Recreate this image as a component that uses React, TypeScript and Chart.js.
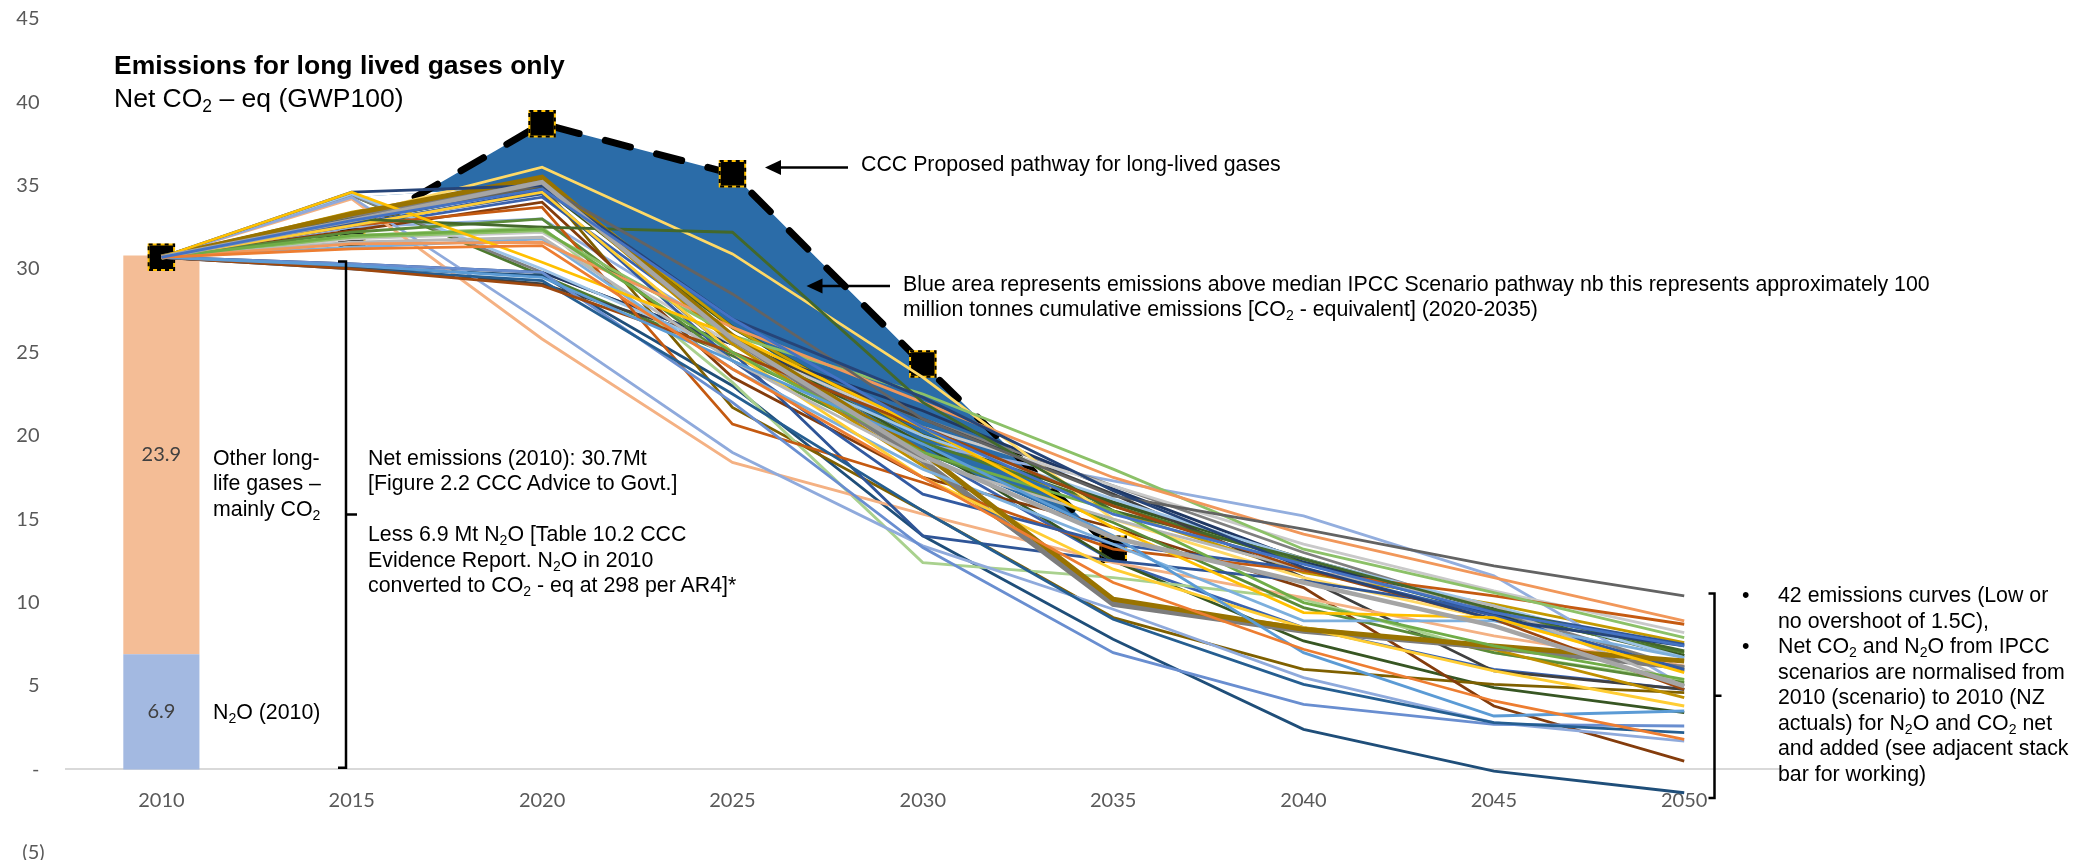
import React, { useEffect, useRef } from 'react';
import { Chart, registerables } from 'chart.js';

Chart.register(...registerables);

// ---- data ----
const years = ['2010', '2015', '2020', '2025', '2030', '2035', '2040', '2045', '2050'];
const yMin = -5;
const yMax = 45;
const yStep = 5;

const netEmissions2010 = 30.7;
const n2o2010 = [6.9];
const otherGases2010 = [23.9];

// CCC proposed pathway for long-lived gases
const cccPathway = [30.7, 32.1, 38.7, 35.7, 24.3, 13.2, null, null, null];
// median of the IPCC scenario curves (lower edge of the blue area)
const medianPathway = [30.7, 34.3, 35.0, 26.5, 19.0, 14.0, null, null, null];

// 42 normalised IPCC emissions curves (Mt CO2-eq)
const curve01 = [30.7, 32.9, 34.8, 27.0, 20.5, 15.3, 12.3, 9.4, 7.4];
const curve02 = [30.7, 31.2, 31.4, 24.0, 17.5, 11.2, 7.2, 4.1, 1.8];
const curve03 = [30.7, 32.9, 35.2, 25.8, 18.8, 13.9, 11.2, 8.6, 5.0];
const curve04 = [30.7, 34.6, 30.4, 26.0, 20.5, 14.5, 9.4, 9.1, 5.8];
const curve05 = [30.7, 30.2, 29.5, 24.5, 19.5, 14.0, 7.0, 3.2, 3.5];
const curve06 = [30.7, 32.0, 32.4, 25.0, 19.0, 15.5, 10.0, 7.4, 5.4];
const curve07 = [30.7, 34.6, 35.0, 27.0, 22.3, 16.7, 12.1, 9.0, 7.4];
const curve08 = [30.7, 30.0, 29.0, 25.0, 20.5, 15.8, 12.0, 9.0, 4.8];
const curve09 = [30.7, 33.0, 35.0, 28.5, 21.0, 16.4, 14.4, 12.2, 10.4];
const curve10 = [30.7, 33.3, 35.5, 26.0, 19.0, 10.2, 8.4, 7.4, 6.5];
const curve11 = [30.7, 30.0, 29.3, 22.5, 15.5, 9.0, 5.1, 2.8, 2.2];
const curve12 = [30.7, 33.0, 32.5, 32.2, 22.0, 15.5, 12.6, 9.6, 7.1];
const curve13 = [30.7, 30.3, 29.8, 22.0, 13.3, 7.0, 3.9, 2.7, 2.6];
const curve14 = [30.7, 31.5, 31.6, 26.5, 22.0, 17.5, 14.1, 11.5, 8.9];
const curve15 = [30.7, 31.6, 31.9, 24.5, 18.5, 15.0, 12.0, 9.8, 5.0];
const curve16 = [30.7, 32.6, 34.6, 25.0, 17.5, 12.0, 8.5, 5.9, 3.8];
const curve17 = [30.7, 31.3, 31.8, 24.0, 18.0, 13.5, 8.9, 8.9, 6.7];
const curve18 = [30.7, 31.9, 32.3, 26.0, 22.5, 18.0, 13.2, 10.6, 7.9];
const curve19 = [30.7, 32.6, 34.7, 24.5, 16.5, 13.5, 12.0, 9.2, 6.0];
const curve20 = [30.7, 32.6, 33.7, 20.7, 17.2, 13.2, 11.9, 10.4, 8.7];
const curve21 = [30.7, 33.2, 35.3, 25.8, 18.5, 9.9, 8.3, 7.3, 6.1];
const curve22 = [30.7, 33.1, 35.2, 25.5, 18.2, 10.1, 8.5, 7.2, 4.3];
const curve23 = [30.7, 32.7, 34.5, 25.0, 14.0, 12.5, 11.3, 9.5, 7.5];
const curve24 = [30.7, 32.2, 33.0, 24.5, 19.0, 14.8, 9.7, 7.0, 5.2];
const curve25 = [30.7, 34.3, 26.8, 19.0, 13.4, 9.6, 5.5, 2.8, 1.7];
const curve26 = [30.7, 34.2, 25.8, 18.4, 15.3, 12.4, 10.3, 8.0, 6.2];
const curve27 = [30.7, 31.8, 32.2, 25.5, 20.5, 17.0, 13.5, 10.7, 8.2];
const curve28 = [30.7, 33.2, 36.1, 30.9, 23.5, 15.0, 11.5, 9.0, 6.0];
const curve29 = [30.7, 34.5, 30.0, 25.0, 20.0, 16.2, 12.6, 9.8, 6.7];
const curve30 = [30.7, 32.0, 32.5, 23.2, 12.4, 11.5, 10.2, 7.0, 5.3];
const curve31 = [30.7, 30.3, 29.8, 25.5, 21.5, 16.8, 12.5, 9.3, 5.9];
const curve32 = [30.7, 32.3, 34.0, 23.5, 17.5, 14.5, 10.9, 3.8, 0.5];
const curve33 = [30.7, 30.1, 29.1, 25.5, 21.0, 16.5, 11.5, 5.9, 4.8];
const curve34 = [30.7, 32.8, 35.0, 21.7, 15.5, 9.1, 6.0, 5.1, 4.6];
const curve35 = [30.7, 30.1, 29.6, 23.0, 14.0, 7.8, 2.4, -0.1, -1.4];
const curve36 = [30.7, 32.8, 34.9, 26.0, 19.5, 12.5, 7.7, 4.9, 3.4];
const curve37 = [30.7, 34.4, 29.8, 25.5, 21.0, 17.0, 13.0, 9.5, 6.1];
const curve38 = [30.7, 34.4, 29.6, 24.8, 19.6, 15.8, 12.4, 9.3, 7.0];
const curve39 = [30.7, 32.5, 33.0, 26.0, 19.5, 17.3, 15.2, 11.6, 5.0];
const curve40 = [30.7, 33.4, 35.4, 26.5, 20.0, 15.5, 11.8, 9.9, 7.6];
const curve41 = [30.7, 32.5, 34.3, 26.0, 19.0, 12.5, 8.5, 6.0, 4.8];
const curve42 = [30.7, 33.1, 35.0, 26.5, 20.0, 16.0, 12.6, 9.6, 6.8];

const curves = [
  curve01, curve02, curve03, curve04, curve05, curve06, curve07, curve08, curve09, curve10,
  curve11, curve12, curve13, curve14, curve15, curve16, curve17, curve18, curve19, curve20,
  curve21, curve22, curve23, curve24, curve25, curve26, curve27, curve28, curve29, curve30,
  curve31, curve32, curve33, curve34, curve35, curve36, curve37, curve38, curve39, curve40,
  curve41, curve42,
];

const curveColours = [
  '#4472C4', '#ED7D31', '#A5A5A5', '#FFC000', '#5B9BD5', '#70AD47', '#264478', '#9E480E',
  '#636363', '#997300', '#255E91', '#43682B', '#698ED0', '#F1975A', '#B7B7B7', '#FFCD33',
  '#7CAFDD', '#8CC168', '#335AA1', '#C55A11', '#7C7C7C', '#BF9000', '#2F5597', '#5A8A39',
  '#8FAADC', '#F4B183', '#C9C9C9', '#FFD966', '#9DC3E6', '#A9D18E', '#203864', '#843C0C',
  '#404040', '#7F6000', '#1F4E79', '#375623', '#7F7F7F', '#4E7A2E', '#93AEDE', '#C49A00',
  '#3A62AE', '#385723',
];

const curveWidths = curves.map((_, i) =>
  i === 20 ? 5.5 : i === 9 ? 5 : i === 2 ? 4.5 : i === 41 ? 4 : 2.8
);

const BAR_N2O = 0;
const BAR_OTHER = 1;
const MEDIAN = 2;
const CCC = 3;

const tickText = (v: number) => (v > 0 ? `${v} ` : v === 0 ? '- ' : `(${Math.abs(v)})`);

// value labels inside the 2010 stacked bar
const barValueLabels = {
  id: 'barValueLabels',
  afterDatasetsDraw(chart: any) {
    const ctx = chart.ctx;
    ctx.save();
    ctx.font = '20px Lato, "Open Sans", sans-serif';
    ctx.fillStyle = '#404040';
    ctx.textAlign = 'center';
    ctx.textBaseline = 'middle';
    [[BAR_N2O, n2o2010[0]], [BAR_OTHER, otherGases2010[0]]].forEach(([idx, value]) => {
      const el = chart.getDatasetMeta(idx).data[0];
      const c = el.getCenterPoint();
      ctx.fillText(value.toFixed(1), c.x, c.y);
    });
    ctx.restore();
  },
};

// dashed gold outline around the CCC pathway markers
const cccMarkerOutline = {
  id: 'cccMarkerOutline',
  afterDatasetDraw(chart: any, args: any) {
    if (args.index !== CCC) return;
    const ctx = chart.ctx;
    const ds = chart.data.datasets[CCC];
    const half = Math.SQRT1_2 * ds.pointRadius;
    ctx.save();
    ctx.strokeStyle = '#000';
    ctx.lineWidth = 2;
    ctx.setLineDash([4, 4]);
    args.meta.data.forEach((pt: any) => {
      if (pt.skip) return;
      ctx.strokeRect(pt.x - half, pt.y - half, half * 2, half * 2);
    });
    ctx.restore();
  },
};

// brackets and arrows pointing at the annotated features
const annotationShapes = {
  id: 'annotationShapes',
  afterDraw(chart: any) {
    const ctx = chart.ctx;
    const y = chart.scales.y;
    ctx.save();
    ctx.strokeStyle = '#000';
    ctx.fillStyle = '#000';
    ctx.lineWidth = 2.5;
    ctx.lineJoin = 'miter';

    const bracket = (x: number, top: number, bottom: number, hook: number, tick: number) => {
      const mid = (top + bottom) / 2;
      ctx.beginPath();
      ctx.moveTo(x - hook, top);
      ctx.lineTo(x, top);
      ctx.lineTo(x, bottom);
      ctx.lineTo(x - hook, bottom);
      ctx.moveTo(x, mid);
      ctx.lineTo(x + tick, mid);
      ctx.stroke();
    };
    bracket(338, y.getPixelForValue(30.45), y.getPixelForValue(0.1), 8, 11);
    bracket(1706.5, y.getPixelForValue(10.55), y.getPixelForValue(-1.72), 6, 7);

    const arrow = (tipX: number, tipY: number, tailX: number) => {
      ctx.beginPath();
      ctx.moveTo(tipX + 12, tipY);
      ctx.lineTo(tailX, tipY);
      ctx.stroke();
      ctx.beginPath();
      ctx.moveTo(tipX, tipY);
      ctx.lineTo(tipX + 16, tipY - 7.5);
      ctx.lineTo(tipX + 16, tipY + 7.5);
      ctx.closePath();
      ctx.fill();
    };
    arrow(757, 159.5, 840);
    arrow(798.5, 278, 882);
    ctx.restore();
  },
};

const textFont = '"Liberation Sans", Arial, Helvetica, sans-serif';
const subStyle: React.CSSProperties = { fontSize: '0.66em', verticalAlign: '-0.28em', lineHeight: 0 };
const Sub2 = () => <sub style={subStyle}>2</sub>;

export default function App() {
  const canvasRef = useRef<HTMLCanvasElement | null>(null);

  useEffect(() => {
    const canvas = canvasRef.current;
    if (!canvas) return;
    Chart.defaults.font.family = 'Lato, "Open Sans", sans-serif';

    const datasets: any[] = [
      {
        type: 'bar',
        label: 'N2O (2010)',
        data: years.map((_, i) => (i === 0 ? [0, n2o2010[0]] : null)),
        backgroundColor: '#a3b9e1',
        grouped: false,
        barPercentage: 0.4,
        categoryPercentage: 1,
        order: 3,
      },
      {
        type: 'bar',
        label: 'Other long-life gases',
        data: years.map((_, i) => (i === 0 ? [n2o2010[0], n2o2010[0] + otherGases2010[0]] : null)),
        backgroundColor: '#f4bd96',
        grouped: false,
        barPercentage: 0.4,
        categoryPercentage: 1,
        order: 3,
      },
      {
        type: 'line',
        label: 'Median IPCC scenario pathway',
        data: medianPathway,
        borderColor: 'rgba(0,0,0,0)',
        borderWidth: 1,
        pointRadius: 0,
        fill: false,
        order: 2,
      },
      {
        type: 'line',
        label: 'CCC proposed pathway',
        data: cccPathway,
        borderColor: '#000',
        borderWidth: 7,
        borderDash: [26, 27],
        borderCapStyle: 'round',
        pointStyle: 'rect',
        pointRadius: 18,
        pointBackgroundColor: '#000',
        pointBorderColor: '#ffc000',
        pointBorderWidth: 2,
        fill: { target: MEDIAN, above: '#2b6ca8', below: 'rgba(0,0,0,0)' },
        order: 1,
      },
      ...curves.map((c, i) => ({
        type: 'line',
        label: `Scenario ${i + 1}`,
        data: c,
        borderColor: curveColours[i],
        borderWidth: curveWidths[i],
        pointRadius: 0,
        fill: false,
        tension: 0,
        order: 0,
      })),
    ];

    const chart = new Chart(canvas, {
      type: 'line',
      data: { labels: years, datasets },
      plugins: [barValueLabels, cccMarkerOutline, annotationShapes],
      options: {
        responsive: false,
        animation: false,
        devicePixelRatio: 1,
        events: [],
        layout: { autoPadding: false, padding: { top: 10.7, right: 303.6, bottom: 7.2, left: 0 } },
        plugins: {
          legend: { display: false },
          tooltip: { enabled: false },
          filler: { drawTime: 'beforeDatasetsDraw' },
        },
        scales: {
          x: {
            type: 'category',
            offset: true,
            position: { y: 0 },
            grid: { display: false, drawTicks: false, offset: true },
            border: { display: true, color: '#d9d9d9', width: 2 },
            ticks: {
              color: '#595959',
              font: { size: 20, family: 'Lato, "Open Sans", sans-serif', lineHeight: 1.2 },
              padding: 19.6,
              maxRotation: 0,
              autoSkip: false,
            },
            afterFit(scale: any) {
              scale.height = 0;
              scale.paddingLeft = 0;
              scale.paddingRight = 0;
            },
          },
          y: {
            type: 'linear',
            min: yMin,
            max: yMax,
            grid: { display: false, drawTicks: false },
            border: { display: false },
            ticks: {
              stepSize: yStep,
              color: '#595959',
              font: { size: 20, family: 'Lato, "Open Sans", sans-serif', lineHeight: 1 },
              padding: 21.6,
              callback: (v: any) => tickText(Number(v)),
            },
            afterFit(scale: any) {
              scale.width = 58.2;
              scale.paddingTop = 0;
              scale.paddingBottom = 0;
            },
          },
        },
      } as any,
    });

    return () => chart.destroy();
  }, []);

  const text: React.CSSProperties = {
    position: 'absolute',
    fontFamily: textFont,
    fontSize: 21.33,
    lineHeight: '25.5px',
    color: '#000',
    whiteSpace: 'nowrap',
  };

  return (
    <div style={{ position: 'relative', width: 2075, height: 852 }}>
      <canvas ref={canvasRef} width={2075} height={852} style={{ display: 'block' }} />

      <div style={{ ...text, left: 106, top: 41, fontSize: 26.5, lineHeight: '33px' }}>
        <div style={{ fontWeight: 700 }}>Emissions for long lived gases only</div>
        <div>
          Net CO<Sub2 /> – eq (GWP100)
        </div>
      </div>

      <div style={{ ...text, left: 205, top: 437.5 }}>
        Other long-
        <br />
        life gases –
        <br />
        mainly CO<Sub2 />
      </div>

      <div style={{ ...text, left: 205, top: 691.5 }}>
        N<Sub2 />O (2010)
      </div>

      <div style={{ ...text, left: 360, top: 437.5, lineHeight: '25.6px' }}>
        Net emissions (2010): {netEmissions2010}Mt
        <br />
        [Figure 2.2 CCC Advice to Govt.]
        <br />
        &nbsp;
        <br />
        Less {n2o2010[0]} Mt N<Sub2 />O [Table 10.2 CCC
        <br />
        Evidence Report. N<Sub2 />O in 2010
        <br />
        converted to CO<Sub2 /> - eq at 298 per AR4]*
      </div>

      <div style={{ ...text, left: 853, top: 143.5 }}>CCC Proposed pathway for long-lived gases</div>

      <div style={{ ...text, left: 895, top: 263.5 }}>
        Blue area represents emissions above median IPCC Scenario pathway nb this represents approximately 100
        <br />
        million tonnes cumulative emissions [CO<Sub2 /> - equivalent] (2020-2035)
      </div>

      <div style={{ ...text, left: 1734, top: 575 }}>
        <div style={{ position: 'relative', paddingLeft: 36 }}>
          <span style={{ position: 'absolute', left: 0, top: 0 }}>•</span>
          42 emissions curves (Low or
          <br />
          no overshoot of 1.5C),
        </div>
        <div style={{ position: 'relative', paddingLeft: 36 }}>
          <span style={{ position: 'absolute', left: 0, top: 0 }}>•</span>
          Net CO<Sub2 /> and N<Sub2 />O from IPCC
          <br />
          scenarios are normalised from
          <br />
          2010 (scenario) to 2010 (NZ
          <br />
          actuals) for N<Sub2 />O and CO<Sub2 /> net
          <br />
          and added (see adjacent stack
          <br />
          bar for working)
        </div>
      </div>
    </div>
  );
}
